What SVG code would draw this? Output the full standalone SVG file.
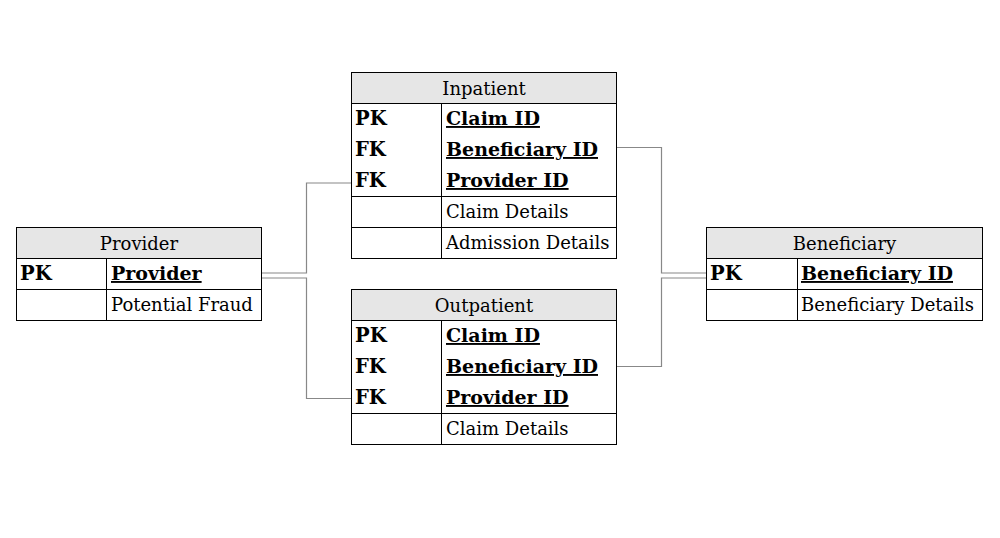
<svg xmlns="http://www.w3.org/2000/svg" width="1000" height="538" viewBox="0 0 1000 538">
<style>
.box{fill:#fff;stroke:#000;stroke-width:1}
.hdr{fill:#e6e6e6;stroke:#000;stroke-width:1}
.ln{stroke:#000;stroke-width:1}
text{font-family:"DejaVu Serif","Liberation Serif",serif;font-size:18px;fill:#000}
.t{text-anchor:middle}
.k{font-weight:bold;font-size:19.5px}
.u{font-weight:bold;font-size:19px;text-decoration:underline}
.c{fill:none;stroke:#888;stroke-width:1.2}
</style>
<rect width="1000" height="538" fill="#fff"/>
<g id="connectors">
<polyline class="c" points="261.5,273 306.5,273 306.5,183 351,183"/>
<polyline class="c" points="261.5,278 306.5,278 306.5,398.5 351,398.5"/>
<polyline class="c" points="616.5,147.5 661.5,147.5 661.5,273 706,273"/>
<polyline class="c" points="616.5,366.5 661.5,366.5 661.5,278 706,278"/>
</g>
<g id="inpatient">
<rect class="box" x="351.5" y="72.5" width="265" height="186"/>
<rect class="hdr" x="351.5" y="72.5" width="265" height="31"/>
<line class="ln" x1="441.5" y1="103.5" x2="441.5" y2="258.5"/>
<line class="ln" x1="351.5" y1="196.5" x2="616.5" y2="196.5"/>
<line class="ln" x1="351.5" y1="227.5" x2="616.5" y2="227.5"/>
<text class="t" x="484" y="95">Inpatient</text>
<text class="k" x="355" y="125">PK</text>
<text class="k" x="355" y="156">FK</text>
<text class="k" x="355" y="187">FK</text>
<text class="u" x="446" y="125">Claim ID</text>
<text class="u" x="446" y="156">Beneficiary ID</text>
<text class="u" x="446" y="187">Provider ID</text>
<text x="446" y="218">Claim Details</text>
<text x="446" y="249">Admission Details</text>
</g>
<g id="outpatient">
<rect class="box" x="351.5" y="289.5" width="265" height="155"/>
<rect class="hdr" x="351.5" y="289.5" width="265" height="31"/>
<line class="ln" x1="441.5" y1="320.5" x2="441.5" y2="444.5"/>
<line class="ln" x1="351.5" y1="413.5" x2="616.5" y2="413.5"/>
<text class="t" x="484" y="312">Outpatient</text>
<text class="k" x="355" y="342">PK</text>
<text class="k" x="355" y="373">FK</text>
<text class="k" x="355" y="404">FK</text>
<text class="u" x="446" y="342">Claim ID</text>
<text class="u" x="446" y="373">Beneficiary ID</text>
<text class="u" x="446" y="404">Provider ID</text>
<text x="446" y="435">Claim Details</text>
</g>
<g id="provider">
<rect class="box" x="16.5" y="227.5" width="245" height="93"/>
<rect class="hdr" x="16.5" y="227.5" width="245" height="31"/>
<line class="ln" x1="106.5" y1="258.5" x2="106.5" y2="320.5"/>
<line class="ln" x1="16.5" y1="289.5" x2="261.5" y2="289.5"/>
<text class="t" x="139" y="250">Provider</text>
<text class="k" x="20" y="280">PK</text>
<text class="u" x="111" y="280">Provider</text>
<text x="111" y="311">Potential Fraud</text>
</g>
<g id="beneficiary">
<rect class="box" x="706.5" y="227.5" width="276" height="93"/>
<rect class="hdr" x="706.5" y="227.5" width="276" height="31"/>
<line class="ln" x1="797.5" y1="258.5" x2="797.5" y2="320.5"/>
<line class="ln" x1="706.5" y1="289.5" x2="982.5" y2="289.5"/>
<text class="t" x="844.5" y="250">Beneficiary</text>
<text class="k" x="710" y="280">PK</text>
<text class="u" x="801" y="280">Beneficiary ID</text>
<text x="801" y="311">Beneficiary Details</text>
</g>
</svg>
